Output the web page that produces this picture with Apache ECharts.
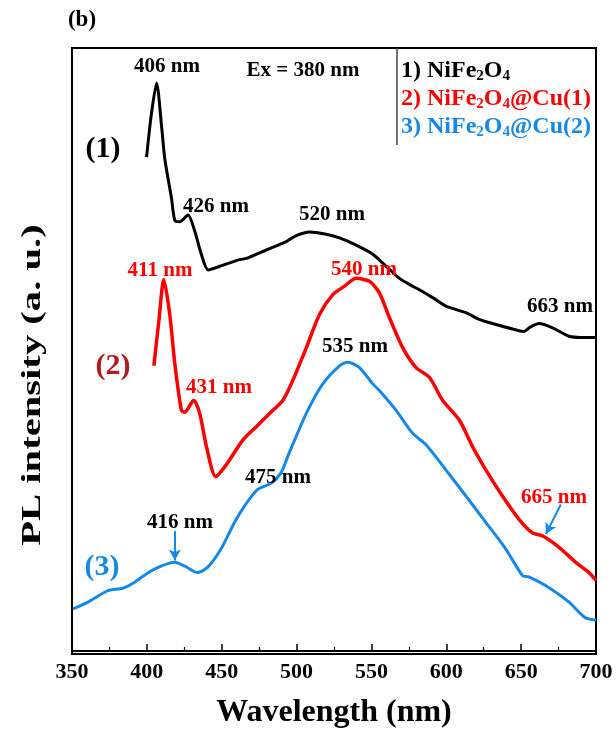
<!DOCTYPE html>
<html>
<head>
<meta charset="utf-8">
<script src="https://cdn.jsdelivr.net/npm/echarts@6/dist/echarts.min.js"></script>
<style>
  html, body { margin: 0; padding: 0; background: #fff; }
  #chart { width: 616px; height: 734px; }
</style>
</head>
<body>
<div id="chart"></div>
<script>
// PL spectra, intensity in arbitrary units
const blackX = [399.8, 403, 406.5, 409.8, 412, 416.5, 418.7, 422, 427.5, 432, 436.5, 441, 448.7, 462, 466.5, 479.8, 493.1, 499.8, 508.7, 519.8, 528.7, 539.8, 550.9, 559.8, 568.7, 577.5, 582, 590.9, 599.8, 613.1, 622, 630.9, 648.7, 652, 656, 662, 670.9, 682, 690, 700]
const blackY = [81.9, 89.0, 94.2, 87.1, 81.6, 75.0, 71.4, 71.2, 72.3, 69.6, 65.7, 63.2, 63.8, 64.9, 65.1, 66.5, 67.9, 68.9, 69.5, 69.1, 68.5, 67.3, 65.8, 63.8, 61.8, 60.5, 59.9, 58.6, 57.2, 56.1, 55.0, 54.3, 53.1, 53.0, 53.7, 54.3, 53.6, 52.2, 52.0, 52.0]

const redX = [404.7, 408, 411.3, 415.3, 418.7, 423.1, 425.3, 431.3, 435.3, 439.8, 446, 453.1, 464.2, 473.1, 482, 490.9, 497.5, 506.5, 515.3, 524.2, 532, 539.8, 548.7, 555.3, 562, 570.9, 579.8, 588.7, 597.5, 608.7, 617.5, 626.5, 637.5, 648.7, 657.5, 664.2, 675.3, 686.5, 695.3, 700]
const redY = [47.3, 54.7, 61.6, 55.8, 47.6, 39.9, 39.6, 41.6, 39.4, 33.9, 28.9, 30.9, 35.0, 37.2, 39.4, 41.6, 44.9, 50.3, 55.8, 59.1, 60.5, 61.8, 61.3, 59.4, 55.3, 50.3, 47.0, 45.4, 41.6, 38.3, 33.9, 30.0, 25.7, 21.8, 19.6, 19.1, 17.2, 14.7, 13.0, 11.7]

const blueX = [350.7, 360.7, 374, 384, 391.8, 402.9, 418.5, 425.1, 434, 440.7, 449.5, 458.5, 465.1, 474, 482.9, 489.5, 494, 506.5, 517.5, 528.7, 534.2, 542, 550.9, 555.3, 566.5, 577.5, 586.5, 599.8, 613.1, 626.5, 639.8, 650.9, 655, 666, 682, 692.3, 700]
const blueY = [7.0, 8.1, 10.0, 10.4, 11.4, 13.3, 14.7, 14.1, 13.0, 13.9, 16.9, 21.3, 24.0, 26.8, 27.8, 29.5, 32.2, 39.4, 44.3, 47.3, 47.9, 47.0, 44.3, 43.2, 39.9, 36.1, 34.2, 30.0, 25.7, 21.3, 16.9, 12.5, 12.3, 10.9, 8.1, 5.6, 5.1]

const xTicks = [350, 400, 450, 500, 550, 600, 650, 700]

// arrows pointing at the 416 nm and 665 nm features: [x0, y0, x1, y1] in data units
const arrows = [
  [418.7, 19.9, 418.7, 15.0],
  [676.5, 24.3, 666.5, 19.4],
]

const BLACK = '#000000'
const RED = '#ff0000'
const BLUE = '#1689e6'
const DARKRED = '#b01c1c'
const FONT = '"Liberation Serif", "Times New Roman", serif'

// peak labels: text, centre x, centre y (px), colour, size
const notes = [
  ['406 nm', 167, 67, BLACK, 21],
  ['Ex = 380 nm', 303, 71, BLACK, 21],
  ['426 nm', 216, 207, BLACK, 21],
  ['520 nm', 332, 215, BLACK, 21],
  ['663 nm', 560, 307, BLACK, 21],
  ['411 nm', 160, 271, RED, 21],
  ['540 nm', 364, 270, RED, 21],
  ['431 nm', 219, 388, RED, 21],
  ['535 nm', 355, 347, BLACK, 21],
  ['475 nm', 278, 478, BLACK, 21],
  ['416 nm', 180, 523, BLACK, 21],
  ['665 nm', 554, 498, RED, 21],
  ['(1)', 103, 149, BLACK, 30],
  ['(2)', 113, 366, DARKRED, 30],
  ['(3)', 102, 567, BLUE, 30],
  ['(b)', 82, 20, BLACK, 23],
]

const legendRows = [
  ['1) NiFe', '2', 'O', '4', '', BLACK],
  ['2) NiFe', '2', 'O', '4', '@Cu(1)', RED],
  ['3) NiFe', '2', 'O', '4', '@Cu(2)', BLUE],
]

const zip = (xs, ys) => xs.map((x, i) => [x, ys[i]])

const chart = echarts.init(document.getElementById('chart'), null, { renderer: 'canvas' })

const graphic = notes.map(([t, x, y, c, s]) => ({
  type: 'text',
  x, y,
  style: { text: t, fill: c, font: `bold ${s}px ${FONT}`, align: 'center', verticalAlign: 'middle' },
  z: 10,
}))

legendRows.forEach(([a, s1, b, s2, rest, c], i) => {
  graphic.push({
    type: 'text',
    x: 401,
    y: 71 + i * 28,
    style: {
      text: `{m|${a}}{s|${s1}}{m|${b}}{s|${s2}}` + (rest ? `{m|${rest}}` : ''),
      fill: c,
      verticalAlign: 'middle',
      rich: {
        m: { fill: c, fontFamily: FONT, fontWeight: 'bold', fontSize: 24, lineHeight: 26 },
        s: { fill: c, fontFamily: FONT, fontWeight: 'bold', fontSize: 15, lineHeight: 8, verticalAlign: 'bottom' },
      },
    },
    z: 10,
  })
})

graphic.push({
  type: 'line',
  shape: { x1: 397, y1: 48, x2: 397, y2: 145 },
  style: { stroke: '#444', lineWidth: 1.5 },
})

graphic.push({
  type: 'text',
  x: 33, y: 385,
  rotation: Math.PI / 2,
  scaleX: 1.45,
  style: { text: 'PL intensity (a. u.)', fill: BLACK, font: `bold 28px ${FONT}`, align: 'center', verticalAlign: 'middle' },
})

function curve(name, xs, ys, color, width, extra) {
  return Object.assign({
    name,
    type: 'line',
    data: zip(xs, ys),
    showSymbol: false,
    smooth: 0.25,
    lineStyle: { color, width, join: 'round' },
    animation: false,
  }, extra || {})
}

chart.setOption({
  backgroundColor: '#ffffff',
  animation: false,
  grid: { left: 72, right: 20, top: 48, bottom: 75, show: true, borderColor: '#000', borderWidth: 2 },
  xAxis: {
    type: 'value',
    min: 350,
    max: 700,
    interval: 50,
    name: 'Wavelength (nm)',
    nameLocation: 'middle',
    nameGap: 43,
    nameTextStyle: { fontFamily: FONT, fontWeight: 'bold', fontSize: 32, color: BLACK },
    axisLine: { lineStyle: { color: BLACK, width: 2 } },
    axisTick: { inside: true, length: 7, lineStyle: { color: BLACK, width: 1.5 } },
    minorTick: { show: true, splitNumber: 2, length: 4, lineStyle: { color: BLACK, width: 1.2 } },
    axisLabel: {
      margin: 7,
      fontFamily: FONT, fontWeight: 'bold', fontSize: 22, color: BLACK,
      formatter: v => (xTicks.includes(v) ? String(v) : ''),
    },
    splitLine: { show: false },
  },
  yAxis: {
    type: 'value',
    min: -0.5,
    max: 100,
    axisLine: { show: true, lineStyle: { color: BLACK, width: 2 } },
    axisTick: { show: false },
    axisLabel: { show: false },
    splitLine: { show: false },
  },
  series: [
    curve('NiFe2O4', blackX, blackY, BLACK, 3),
    curve('NiFe2O4@Cu(1)', redX, redY, RED, 3.5),
    curve('NiFe2O4@Cu(2)', blueX, blueY, BLUE, 3, {
      markLine: {
        silent: true,
        animation: false,
        symbol: ['none', 'arrow'],
        symbolSize: [9, 11],
        label: { show: false },
        lineStyle: { color: BLUE, width: 2, type: 'solid' },
        data: arrows.map(([x0, y0, x1, y1]) => [{ coord: [x0, y0] }, { coord: [x1, y1] }]),
      },
    }),
  ],
  graphic,
})
</script>
</body>
</html>
